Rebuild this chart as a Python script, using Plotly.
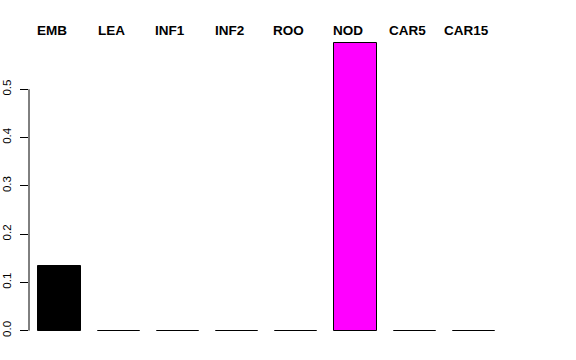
import plotly.graph_objects as go

categories = ["EMB", "LEA", "INF1", "INF2", "ROO", "NOD", "CAR5", "CAR15"]
values = [0.133, 0.0, 0.0, 0.0, 0.0, 0.595, 0.0, 0.0]
colors = ["#000000", "#FF0000", "#00CD00", "#0000FF", "#00FFFF", "#FF00FF", "#FFFF00", "#BEBEBE"]
tick_vals = [0.0, 0.1, 0.2, 0.3, 0.4, 0.5]
tick_text = ["0.0", "0.1", "0.2", "0.3", "0.4", "0.5"]

# barplot geometry (R style: width 1, space 0.4)
space = 0.4
width = 1.0
n = len(categories)
bar_x = [space + (width + space) * i + width / 2 for i in range(n)]

# header labels sit slightly left of the bar centres
label_offset = -0.18
label_x = [bx + label_offset for bx in bar_x]

fig = go.Figure()
fig.add_trace(go.Bar(
    x=bar_x, y=values, width=width,
    marker=dict(color=colors, line=dict(color="#000000", width=1)),
    showlegend=False, hoverinfo="skip",
))

for lx, name in zip(label_x, categories):
    fig.add_annotation(x=lx, y=1.0, xref="x", yref="paper", yanchor="middle",
                       text="<b>" + name + "</b>", showarrow=False,
                       font=dict(family="Liberation Sans, Arial, sans-serif", size=13.5, color="black"),
                       yshift=-0.5)

# y axis line only over the tick range
fig.add_shape(type="line", xref="paper", yref="y", x0=0, x1=0,
              y0=tick_vals[0], y1=tick_vals[-1], line=dict(color="black", width=1))

fig.update_layout(
    width=576, height=360,
    margin=dict(l=29, r=26, t=30, b=20, autoexpand=False),
    paper_bgcolor="white", plot_bgcolor="white",
    bargap=0,
    xaxis=dict(range=[0.18, 12.5], showticklabels=False, showgrid=False,
               zeroline=False, showline=False, ticks="", automargin=False),
    yaxis=dict(range=[-0.0193, 0.6228], tickvals=tick_vals, ticktext=tick_text,
               tickangle=-90, ticks="outside", ticklen=8, tickcolor="black",
               ticklabelstandoff=4, automargin=False,
               showgrid=False, zeroline=False, showline=False,
               tickfont=dict(family="Liberation Sans, Arial, sans-serif", size=11.5, color="black")),
)

fig.write_html("out.html")
